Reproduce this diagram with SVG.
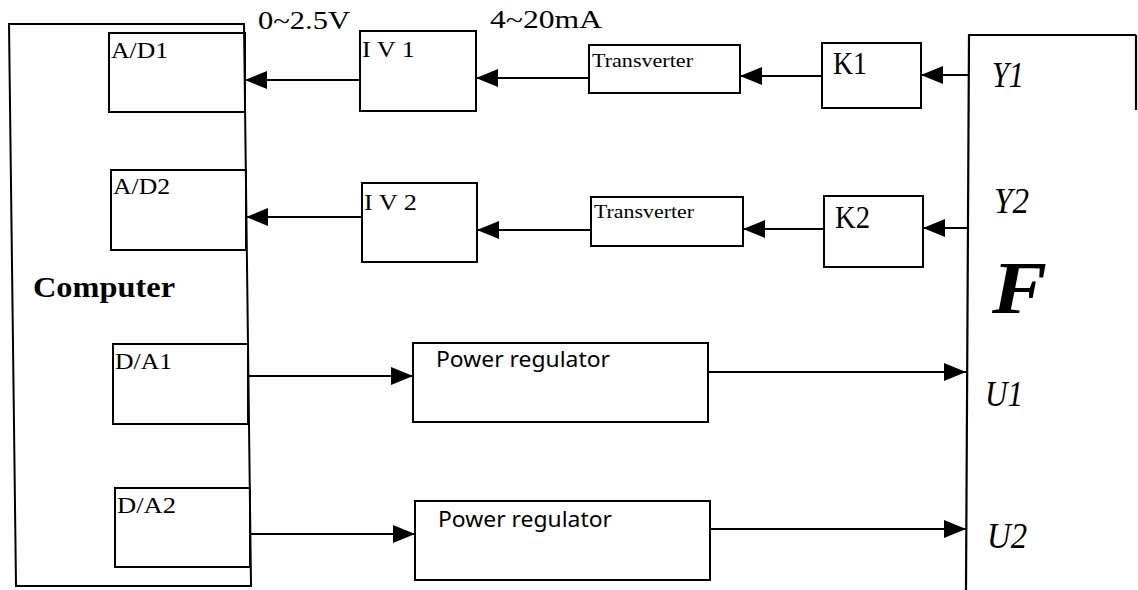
<svg xmlns="http://www.w3.org/2000/svg" width="1138" height="590" viewBox="0 0 1138 590">
<style>
.box{fill:none;stroke:#000;stroke-width:2}
.ln{fill:none;stroke:#000;stroke-width:2.2}
.conn{stroke:#000;stroke-width:2.2;fill:none;marker-end:url(#ah)}
.t{font-family:"Liberation Serif","Times New Roman",serif;fill:#000}
.ti{font-family:"Liberation Serif","Times New Roman",serif;font-style:italic;fill:#000}
.s{font-family:"Noto Sans","Liberation Sans",sans-serif;fill:#000}
</style>
<defs>
<marker id="ah" markerUnits="userSpaceOnUse" markerWidth="22" markerHeight="18" refX="22" refY="9" orient="auto">
<path d="M0,0 L22,9 L0,18 Z" fill="#000"/>
</marker>
</defs>
<rect width="1138" height="590" fill="#fff"/>

<g id="computer">
<polygon class="box" points="9,24 244,24 251,586 16,586"/>
<text class="t" x="33" y="297" font-size="30" font-weight="bold" textLength="142" lengthAdjust="spacingAndGlyphs">Computer</text>
</g>
<g id="ad1">
<rect class="box" x="109" y="33" width="136" height="79"/>
<text class="t" x="111" y="58" font-size="23" textLength="57" lengthAdjust="spacingAndGlyphs">A/D1</text>
</g>
<g id="ad2">
<rect class="box" x="111" y="170" width="135" height="80"/>
<text class="t" x="113" y="194" font-size="23" textLength="57" lengthAdjust="spacingAndGlyphs">A/D2</text>
</g>
<g id="da1">
<rect class="box" x="113" y="344" width="135" height="80"/>
<text class="t" x="115" y="369" font-size="23" textLength="57" lengthAdjust="spacingAndGlyphs">D/A1</text>
</g>
<g id="da2">
<rect class="box" x="115" y="488" width="135" height="79"/>
<text class="t" x="117" y="513" font-size="23" textLength="59" lengthAdjust="spacingAndGlyphs">D/A2</text>
</g>
<g id="iv1">
<rect class="box" x="360" y="31" width="116" height="80"/>
<text class="t" x="362" y="57" font-size="23" textLength="53" lengthAdjust="spacingAndGlyphs">I V 1</text>
</g>
<g id="iv2">
<rect class="box" x="362" y="183" width="115" height="79"/>
<text class="t" x="364" y="210" font-size="23" textLength="53" lengthAdjust="spacingAndGlyphs">I V 2</text>
</g>
<g id="transverter1">
<rect class="box" x="589" y="45" width="151" height="48"/>
<text class="t" x="592" y="67" font-size="19" textLength="101" lengthAdjust="spacingAndGlyphs">Transverter</text>
</g>
<g id="transverter2">
<rect class="box" x="591" y="197" width="152" height="49"/>
<text class="t" x="594" y="218" font-size="19" textLength="100" lengthAdjust="spacingAndGlyphs">Transverter</text>
</g>
<g id="k1">
<rect class="box" x="822" y="43" width="99" height="65"/>
<text class="t" x="833" y="74" font-size="31" textLength="34" lengthAdjust="spacingAndGlyphs">K1</text>
</g>
<g id="k2">
<rect class="box" x="824" y="196" width="99" height="71"/>
<text class="t" x="835" y="228" font-size="31" textLength="35" lengthAdjust="spacingAndGlyphs">K2</text>
</g>
<g id="power1">
<rect class="box" x="413" y="343" width="295" height="79"/>
<text class="s" x="436" y="367" font-size="22" textLength="174" lengthAdjust="spacingAndGlyphs">Power regulator</text>
</g>
<g id="power2">
<rect class="box" x="415" y="501" width="295" height="79"/>
<text class="s" x="438" y="527" font-size="22" textLength="174" lengthAdjust="spacingAndGlyphs">Power regulator</text>
</g>
<g id="plant">
<polyline class="ln" points="966,590 969,35 1136,35"/>
<line class="ln" x1="1136" y1="35" x2="1136" y2="110" stroke-width="1.2"/>
<text class="ti" x="992" y="87" font-size="36" textLength="32" lengthAdjust="spacingAndGlyphs">Y1</text>
<text class="ti" x="994" y="213" font-size="35" textLength="35" lengthAdjust="spacingAndGlyphs">Y2</text>
<text class="ti" x="992" y="313" font-size="75" font-weight="bold" textLength="55" lengthAdjust="spacingAndGlyphs">F</text>
<text class="ti" x="985" y="406" font-size="36" textLength="38" lengthAdjust="spacingAndGlyphs">U1</text>
<text class="ti" x="987" y="548" font-size="36" textLength="40" lengthAdjust="spacingAndGlyphs">U2</text>
</g>
<g id="labels">
<text class="t" x="258" y="29" font-size="26" textLength="92" lengthAdjust="spacingAndGlyphs">0~2.5V</text>
<text class="t" x="490" y="28" font-size="26" textLength="112" lengthAdjust="spacingAndGlyphs">4~20mA</text>
</g>
<g id="connectors">
<line class="conn" x1="360" y1="80" x2="245" y2="80"/>
<line class="conn" x1="589" y1="78" x2="476" y2="78"/>
<line class="conn" x1="822" y1="76" x2="740" y2="76"/>
<line class="conn" x1="969" y1="75" x2="921" y2="75"/>
<line class="conn" x1="362" y1="217" x2="246" y2="217"/>
<line class="conn" x1="591" y1="230" x2="477" y2="230"/>
<line class="conn" x1="824" y1="229" x2="743" y2="229"/>
<line class="conn" x1="968" y1="228" x2="923" y2="228"/>
<line class="conn" x1="248" y1="376" x2="413" y2="376"/>
<line class="conn" x1="708" y1="372" x2="966" y2="372"/>
<line class="conn" x1="250" y1="534" x2="415" y2="534"/>
<line class="conn" x1="710" y1="529" x2="966" y2="529"/>
</g>
</svg>
